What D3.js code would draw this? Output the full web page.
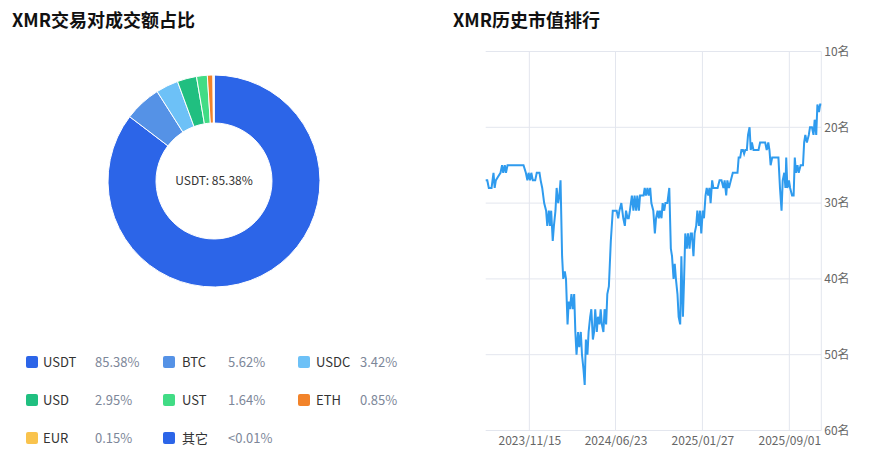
<!DOCTYPE html>
<html><head><meta charset="utf-8">
<script src="https://cdn.jsdelivr.net/npm/d3@7"></script>
<style>body{margin:0;background:#fff;font-family:"Noto Sans CJK SC","Noto Sans",sans-serif}</style>
</head><body><svg id="c" width="873" height="459"></svg>
<script>
const pieNames=["USDT","BTC","USDC","USD","UST","ETH","EUR","其它"];
const pieValues=[85.38,5.62,3.42,2.95,1.64,0.85,0.15,0.005];
const pieLabels=["85.38%","5.62%","3.42%","2.95%","1.64%","0.85%","0.15%","<0.01%"];
const pieColors=["#2c65e8","#5592e6","#6dc1f7","#20bf80","#41dc85","#f2832a","#f9c34d","#2c65e8"];
// day offsets relative to 2023/11/15 and rank
const days=[-112,-108,-104,-97,-92,-89,-86,-80,-74,-70,-67,-63,-60,-56,-50,-15,-9,-5,-2,2,5,9,15,19,26,29,33,38,43,46,50,53,56,60,63,67,70,74,77,80,84,87,91,94,98,101,104,108,111,115,118,121,125,128,132,135,139,142,145,149,152,156,159,163,166,169,173,176,180,183,186,190,193,197,200,204,209,214,219,224,228,231,236,241,245,248,252,255,258,263,267,270,274,277,281,284,293,296,299,303,306,310,313,318,322,325,329,332,335,339,342,346,349,354,359,363,366,370,373,376,380,383,387,390,394,397,400,404,407,411,414,417,421,424,428,431,435,438,441,445,448,452,455,459,462,465,469,472,477,483,488,493,498,501,505,508,512,517,522,534,537,541,544,548,551,554,558,561,565,568,571,575,588,592,605,609,613,616,619,623,639,643,647,650,654,657,659,662,666,669,674,678,681,684,688,691,696,702,705,708,712,717,720,725,729,732,736,739,743,746,749];
const ranks=[27,27,28,28,26,28,27,26.5,26,25,26,25,26,25,25,25,26,27,26,27,26,27,27,26,26,27,28,30,31,33,31,33,31,35,33,31,28,30,29,27,37,40,39,40,46,43,44,42,44,42,47,50,47,49,47,50,52,54,48,50,47,45,44,48,47,44,47,45,46,44,46,47,44,46,42,41,35,31,31,31,32,31,30,32,33,31,32,32,31,29,31,29,31,29,31,29,29,28,29,28,29,28,30,31,34,32,31,32,31,32,30,31,30,30,28,36,37,40,38,40,42,45,46,37,45,40,34,36,34,36,34,34,37,34,33,31,33,31,34,31,32,29,28,29,28,30,27,28,28,28,27,27,28,27,29,27,28,27,26,26,24,24,23,23,23.5,23,23,21,20,23,22,23,23,22,22,23,22,23,25,24,24,28,31,27,26,28,24,28,27,28,29,29,24,26,25,26,25,25,22,21,22,21,20,20,21,19,21,17,18,17,17];
const xTickDays=[0,221,444,667];
const xTickLabels=["2023/11/15","2024/06/23","2025/01/27","2025/09/01"];
const yTicks=[10,20,30,40,50,60];

const svg=d3.select("#c");
svg.append("text").attr("x",12).attr("y",27).attr("font-size",18).attr("font-weight","bold").attr("fill","#111").text("XMR交易对成交额占比");
svg.append("text").attr("x",453).attr("y",27).attr("font-size",18).attr("font-weight","bold").attr("fill","#111").text("XMR历史市值排行");

// donut
const pie=d3.pie().sort(null).value(d=>d)(pieValues);
const arc=d3.arc().innerRadius(58).outerRadius(106);
const g=svg.append("g").attr("transform","translate(214,181)");
g.selectAll("path").data(pie).join("path").attr("d",arc).attr("fill",(d,i)=>pieColors[i]).attr("stroke","#fff").attr("stroke-width",1);
g.append("text").attr("text-anchor","middle").attr("dy","0.35em").attr("font-size",12).attr("fill","#333").text(pieNames[0]+": "+pieLabels[0]);

// legend
const colX=[[26,43,95],[163,182,228],[298,316,360]];
pieNames.forEach((n,i)=>{
  const c=colX[i%3], y=362+Math.floor(i/3)*38;
  svg.append("rect").attr("x",c[0]).attr("y",y-6).attr("width",12).attr("height",12).attr("rx",2).attr("fill",pieColors[i]);
  svg.append("text").attr("x",c[1]).attr("y",y).attr("dy","0.35em").attr("font-size",13).attr("fill","#333").text(n);
  svg.append("text").attr("x",c[2]).attr("y",y).attr("dy","0.35em").attr("font-size",13).attr("fill","#7d8799").text(pieLabels[i]);
});

// line chart
const x=d3.scaleLinear().domain([-112,749]).range([485.7,821.3]);
const y=d3.scaleLinear().domain([10,60]).range([51.5,430.5]);
const grid="#e3e6ee";
svg.append("g").selectAll("line").data(yTicks).join("line").attr("x1",485.7).attr("x2",821.3).attr("y1",d=>y(d)).attr("y2",d=>y(d)).attr("stroke",grid);
svg.append("g").selectAll("line").data(xTickDays).join("line").attr("x1",d=>x(d)).attr("x2",d=>x(d)).attr("y1",51.5).attr("y2",430.5).attr("stroke",grid);
svg.append("line").attr("x1",821.3).attr("x2",821.3).attr("y1",51.5).attr("y2",430.5).attr("stroke",grid);
svg.append("g").attr("transform","translate(821.3,0)").call(d3.axisRight(y).tickValues(yTicks).tickSize(0).tickPadding(3).tickFormat(d=>d+"名"))
 .call(a=>a.select(".domain").remove()).selectAll("text").attr("font-size",12).attr("fill","#666").attr("font-family","Noto Sans CJK SC");
svg.append("g").attr("transform","translate(0,430.5)").call(d3.axisBottom(x).tickValues(xTickDays).tickSize(0).tickPadding(6).tickFormat((d,i)=>xTickLabels[i]))
 .call(a=>a.select(".domain").remove()).selectAll("text").attr("font-size",12).attr("fill","#666").attr("font-family","Noto Sans CJK SC");
const data=days.map((d,i)=>[d,ranks[i]]);
svg.append("path").datum(data).attr("fill","none").attr("stroke","#2f9bee").attr("stroke-width",2)
 .attr("d",d3.line().x(d=>x(d[0])).y(d=>y(d[1])));
</script></body></html>
